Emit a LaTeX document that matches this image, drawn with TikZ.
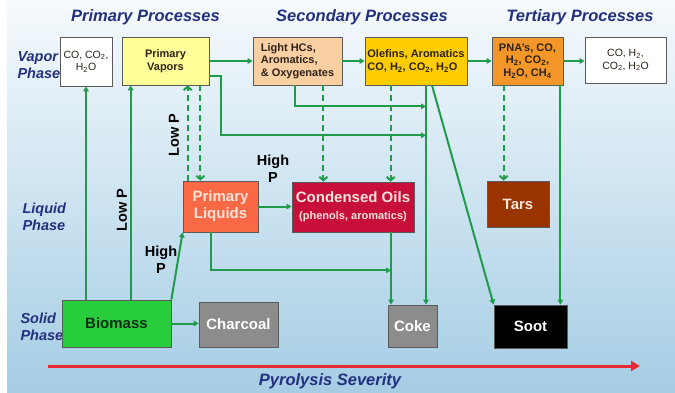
\documentclass[tikz,border=0pt]{standalone}
\usepackage{fontspec}
\setmainfont{Liberation Sans}
\usetikzlibrary{arrows.meta}
\definecolor{titleblue}{RGB}{35,48,125}
\definecolor{flowgreen}{RGB}{30,155,75}
\definecolor{boxedge}{RGB}{90,90,90}
\definecolor{pvyellow}{RGB}{255,255,153}
\definecolor{peach}{RGB}{250,207,162}
\definecolor{gold}{RGB}{255,204,0}
\definecolor{pnaorange}{RGB}{245,150,40}
\definecolor{coral}{RGB}{250,105,70}
\definecolor{crimson}{RGB}{200,15,60}
\definecolor{tarbrown}{RGB}{153,51,0}
\definecolor{biogreen}{RGB}{40,205,60}
\definecolor{biotext}{RGB}{15,45,20}
\definecolor{chargray}{RGB}{140,140,140}
\definecolor{paletext}{RGB}{255,228,218}
\definecolor{sevred}{RGB}{232,40,50}
\definecolor{boxtext}{RGB}{45,35,25}
\begin{document}
\begin{tikzpicture}[x=1pt,y=-1pt,
    box/.style={draw=boxedge,line width=0.7pt,inner sep=1pt,align=center,text=boxtext,
      font=\fontsize{11}{12.5}\selectfont\bfseries},
    gasbox/.style={box,fill=white,font=\fontsize{10.5}{12.5}\selectfont},
    bigbox/.style={box,font=\fontsize{15}{17}\selectfont\bfseries},
    title/.style={text=titleblue,font=\fontsize{16.5}{18}\selectfont\bfseries\itshape},
    phase/.style={text=titleblue,align=left,font=\fontsize{14.5}{16.5}\selectfont\bfseries\itshape},
    plabel/.style={align=center,font=\fontsize{14.5}{17}\selectfont\bfseries},
    flow/.style={draw=flowgreen,line width=2pt,-{Triangle[length=5pt,width=5.5pt]}},
    vapdash/.style={flow,dash pattern=on 6pt off 4pt,-{Straight Barb[length=3.5pt,width=8pt]}},
    sev/.style={draw=sevred,line width=3pt,-{Triangle[length=9pt,width=10pt]}}]
  % background
  \fill[white] (0,0) rectangle (675,393);
  \shade[top color={rgb,255:red,246;green,250;blue,253},bottom color={rgb,255:red,165;green,205;blue,228}]
    (7,0) rectangle (675,393);
  \useasboundingbox (0,0) rectangle (675,393);

  % headings
  \node[title] (tprim) at (145.5,17) {Primary Processes};
  \node[title] (tsec) at (362,17) {Secondary Processes};
  \node[title] (tter) at (580,17) {Tertiary Processes};
  \node[phase,anchor=west] (vapor) at (14,65) {Vapor\\Phase};
  \node[phase,anchor=west] (liquid) at (19,217) {Liquid\\Phase};
  \node[phase,anchor=west] (solid) at (17,327) {Solid\\Phase};

  % vapor phase
  \node[gasbox,minimum width=52pt,minimum height=49pt] (cov) at (86,61.5) {CO, CO\textsubscript{2},\\H\textsubscript{2}O};
  \node[box,fill=pvyellow,minimum width=87pt,minimum height=48pt] (pv) at (165.5,61) {Primary\\Vapors};
  \node[box,fill=peach,minimum width=89pt,minimum height=48pt,align=left] (lhc) at (297.5,61) {Light HCs,\\Aromatics,\\\& Oxygenates};
  \node[box,fill=gold,minimum width=102pt,minimum height=48pt,align=left,inner sep=0.3pt] (ole) at (416,61) {Olefins, Aromatics\\CO, H\textsubscript{2}, CO\textsubscript{2}, H\textsubscript{2}O};
  \node[box,fill=pnaorange,minimum width=71pt,minimum height=48pt] (pna) at (527.5,61) {PNA's, CO,\\H\textsubscript{2}, CO\textsubscript{2},\\H\textsubscript{2}O, CH\textsubscript{4}};
  \node[gasbox,minimum width=81pt,minimum height=46pt] (coh) at (625.5,60) {CO, H\textsubscript{2},\\CO\textsubscript{2}, H\textsubscript{2}O};

  % liquid phase
  \node[bigbox,fill=coral,text=paletext,minimum width=75pt,minimum height=51pt] (pl) at (220.5,206.5) {Primary\\Liquids};
  \node[bigbox,fill=crimson,text=paletext,minimum width=122pt,minimum height=50pt] (co) at (353,207) {Condensed Oils\\{\fontsize{11}{12}\selectfont(phenols, aromatics)}};
  \node[bigbox,fill=tarbrown,text=paletext,minimum width=62pt,minimum height=46pt] (tars) at (518,204) {Tars};

  % solid phase
  \node[bigbox,fill=biogreen,text=biotext,minimum width=109pt,minimum height=47pt] (bio) at (116.5,323.5) {Biomass};
  \node[bigbox,fill=chargray,text=white,minimum width=79pt,minimum height=45pt] (char) at (238.5,324.5) {Charcoal};
  \node[bigbox,fill=chargray,text=white,minimum width=49pt,minimum height=42pt] (coke) at (412.5,326) {Coke};
  \node[bigbox,fill=black,text=white,minimum width=73pt,minimum height=43pt] (soot) at (530.5,326.5) {Soot};

  % pressure labels
  \node[plabel,rotate=90] (lowpa) at (122,210) {Low P};
  \node[plabel,rotate=90] (lowpb) at (174,135) {Low P};
  \node[plabel] (highpa) at (161,260) {High\\P};
  \node[plabel] (highpb) at (273,169) {High\\P};

  % branch points
  \coordinate (biol) at ([xshift=69pt]bio.north west);
  \coordinate (pvr) at ([yshift=-15pt]pv.east);
  \coordinate (pvd) at ([xshift=-9pt]pv.south east);
  \coordinate (plu) at ([xshift=5pt]pl.north west);
  \coordinate (pls) at ([xshift=28pt]pl.south west);
  \coordinate (lhcs) at ([xshift=-2.5pt]lhc.south);
  \coordinate (lhcd) at ([xshift=-19pt]lhc.south east);
  \coordinate (oled) at ([xshift=26pt]ole.south west);
  \coordinate (drop) at ([xshift=10pt]ole.south);
  \coordinate (soo) at ([xshift=16pt]ole.south);
  \coordinate (pnad) at ([xshift=12pt]pna.south west);
  \coordinate (pnas) at ([xshift=-3pt]pna.south east);
  \coordinate (cdrop) at ([xshift=38pt]co.south);

  % connectors
  \draw[flow] (bio.north -| cov.south) -- (cov.south);
  \draw[flow] (biol) -- (biol |- pv.south);
  \draw[flow] (bio.north east) -- (pl.south west);
  \draw[flow] (bio.east) -- (bio.east -| char.west);
  \draw[flow] (pv.east) -- (lhc.west);
  \draw[flow] (lhc.east) -- (ole.west);
  \draw[flow] (ole.east) -- (pna.west);
  \draw[flow] (pna.east) -- (pna.east -| coh.west);
  \draw[flow] (pvr) -- ++(12,0) |- ([yshift=-50pt]drop);
  \draw[flow] (lhcs) |- ([yshift=-21pt]drop);
  \draw[flow] (drop) -- (drop |- coke.north);
  \draw[flow] (soo) -- (soot.north west);
  \draw[flow] (pnas) -- (pnas |- soot.north);
  \draw[flow] (pl.east) -- (pl.east -| co.west);
  \draw[flow] (pls) |- ([yshift=-38pt]cdrop);
  \draw[flow] (cdrop) -- (cdrop |- coke.north);
  \draw[vapdash] (pvd) -- (pvd |- pl.north);
  \draw[vapdash] (plu) -- (plu |- pv.south);
  \draw[vapdash] (lhcd) -- (lhcd |- co.north);
  \draw[vapdash] (oled) -- (oled |- co.north);
  \draw[vapdash] (pnad) -- (pnad |- tars.north);

  % severity axis
  \coordinate (sevl) at (48,366);
  \coordinate (sevr) at (640,366);
  \draw[sev] (sevl) -- (sevr);
  \node[title] (sevtext) at (330,381) {Pyrolysis Severity};
\end{tikzpicture}
\end{document}
